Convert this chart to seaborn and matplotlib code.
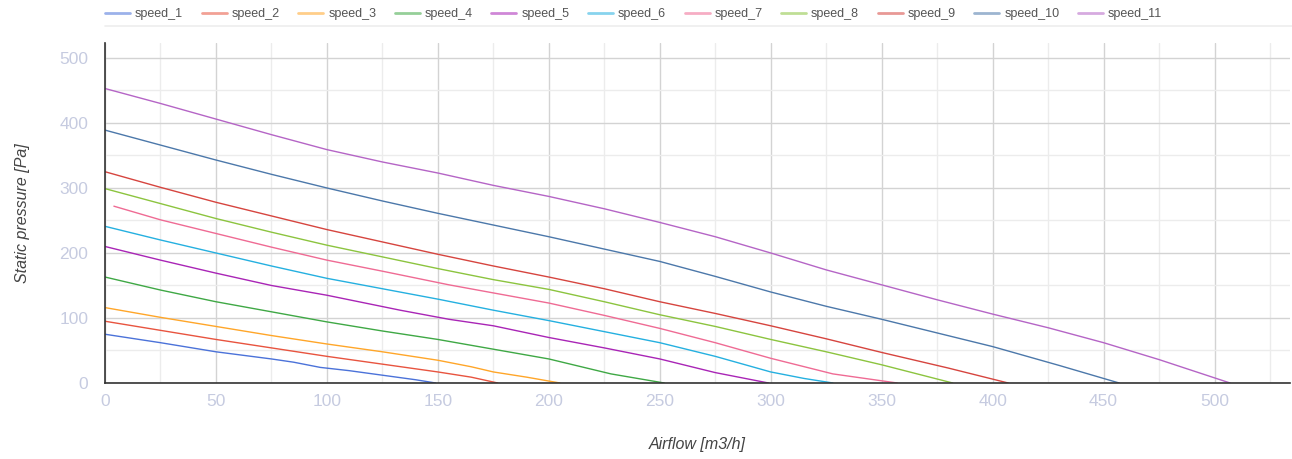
import numpy as np
import pandas as pd
import matplotlib
matplotlib.use("Agg")
import matplotlib.pyplot as plt
from matplotlib.lines import Line2D
from matplotlib.ticker import MultipleLocator
import seaborn as sns

# ---- data ----
series_names = ["speed_1", "speed_2", "speed_3", "speed_4", "speed_5", "speed_6",
                "speed_7", "speed_8", "speed_9", "speed_10", "speed_11"]

speed_1_x = [0, 25, 50, 75, 85, 97, 110, 125, 140, 149]
speed_1_y = [75, 62, 48, 37, 32, 24, 19, 12, 5, 0]
speed_2_x = [0, 25, 50, 75, 100, 125, 150, 165, 177]
speed_2_y = [95, 81, 67, 54, 41, 29, 17, 9, 0]
speed_3_x = [0, 25, 50, 75, 100, 125, 150, 165, 175, 190, 205]
speed_3_y = [116, 101, 87, 73, 60, 48, 35, 25, 17, 9, 0]
speed_4_x = [0, 25, 50, 71, 100, 125, 150, 175, 200, 228, 252]
speed_4_y = [163, 143, 125, 112, 94, 80, 67, 52, 37, 14, 0]
speed_5_x = [0, 25, 50, 75, 100, 133, 155, 175, 200, 225, 250, 275, 299]
speed_5_y = [210, 189, 169, 150, 135, 112, 98, 88, 70, 54, 37, 16, 0]
speed_6_x = [0, 25, 50, 75, 100, 125, 150, 175, 200, 225, 250, 275, 300, 315, 328]
speed_6_y = [241, 220, 200, 180, 161, 145, 129, 112, 96, 79, 62, 41, 17, 7, 0]
speed_7_x = [4, 25, 50, 75, 100, 125, 155, 200, 225, 250, 275, 300, 328, 357]
speed_7_y = [272, 251, 230, 209, 189, 172, 151, 123, 104, 84, 62, 38, 14, 0]
speed_8_x = [0, 25, 50, 75, 100, 125, 150, 175, 200, 225, 250, 275, 300, 325, 350, 382]
speed_8_y = [299, 276, 253, 232, 212, 194, 176, 159, 144, 125, 105, 87, 67, 48, 28, 0]
speed_9_x = [0, 25, 50, 75, 100, 125, 150, 175, 200, 225, 250, 275, 300, 325, 350, 380, 407]
speed_9_y = [325, 301, 278, 257, 236, 217, 198, 180, 163, 145, 125, 107, 88, 68, 47, 23, 0]
speed_10_x = [0, 25, 50, 75, 100, 125, 150, 175, 200, 225, 250, 275, 300, 325, 350, 375, 400, 430, 457]
speed_10_y = [389, 366, 343, 321, 300, 280, 261, 243, 225, 206, 187, 164, 140, 118, 98, 77, 56, 27, 0]
speed_11_x = [0, 25, 50, 75, 100, 125, 150, 175, 200, 225, 250, 275, 300, 325, 350, 375, 400, 425, 450, 475, 507]
speed_11_y = [453, 430, 406, 382, 359, 340, 323, 304, 287, 268, 247, 225, 200, 174, 151, 128, 106, 85, 62, 36, 0]

x_values = [speed_1_x, speed_2_x, speed_3_x, speed_4_x, speed_5_x, speed_6_x,
            speed_7_x, speed_8_x, speed_9_x, speed_10_x, speed_11_x]
y_values = [speed_1_y, speed_2_y, speed_3_y, speed_4_y, speed_5_y, speed_6_y,
            speed_7_y, speed_8_y, speed_9_y, speed_10_y, speed_11_y]

x_ticks = [0, 50, 100, 150, 200, 250, 300, 350, 400, 450, 500]
y_ticks = [0, 100, 200, 300, 400, 500]

colors = ["#4b72d9", "#e8543f", "#ffa629", "#3fa845", "#a925b6", "#25b0e0",
          "#ef6b94", "#8cc43f", "#d6453f", "#4c78aa", "#b565c6"]

rows = []
for name, xs, ys in zip(series_names, x_values, y_values):
    for xv, yv in zip(xs, ys):
        rows.append({"series": name, "airflow": xv, "pressure": yv})
df = pd.DataFrame(rows)

# ---- figure ----
sns.set_theme(style="white")
plt.rcParams["font.family"] = ["Liberation Sans", "DejaVu Sans"]

fig = plt.figure(figsize=(12.92, 4.59), dpi=100)
ax = fig.add_axes([105 / 1292, 1 - 383 / 459, (1290 - 105) / 1292, (383 - 43) / 459])

sns.lineplot(data=df, x="airflow", y="pressure", hue="series", hue_order=series_names,
             palette=colors, linewidth=1.0, sort=False, estimator=None,
             legend=False, ax=ax)

ax.set_xlim(0, 534)
ax.set_ylim(0, 523)
ax.set_xticks(x_ticks)
ax.set_yticks(y_ticks)
ax.xaxis.set_minor_locator(MultipleLocator(25))
ax.yaxis.set_minor_locator(MultipleLocator(50))
ax.grid(which="major", color="#d3d3d3", linewidth=1.0)
ax.grid(which="minor", color="#ececec", linewidth=1.0)
ax.set_axisbelow(True)

for side in ["top", "right"]:
    ax.spines[side].set_visible(False)
for side in ["left", "bottom"]:
    ax.spines[side].set_color("#333333")
    ax.spines[side].set_linewidth(1.2)
    ax.spines[side].set_zorder(5)

ax.tick_params(axis="both", which="both", length=0, labelsize=12.5, labelcolor="#c6cbe0")
ax.tick_params(axis="x", pad=8)
ax.tick_params(axis="y", pad=12)

ax.set_xlabel("Airflow [m3/h]", fontsize=11.5, style="italic", color="#444444", labelpad=20)
ax.set_ylabel("Static pressure [Pa]", fontsize=11.5, style="italic", color="#444444", labelpad=21)

# legend
handles = [Line2D([0], [0], color=c, lw=2, alpha=0.55) for c in colors]
fig.legend(handles, series_names, loc="center left",
           bbox_to_anchor=(105 / 1292, 1 - 14 / 459), ncol=11, frameon=False,
           fontsize=9, handlelength=2.0, handletextpad=0.4, columnspacing=1.48,
           labelcolor="#555555", borderaxespad=0, borderpad=0)

fig.add_artist(Line2D([105 / 1292, 1.0], [1 - 26 / 459, 1 - 26 / 459],
                      color="#eeeeee", lw=1.2, transform=fig.transFigure))

fig.savefig("out.png", dpi=100)
